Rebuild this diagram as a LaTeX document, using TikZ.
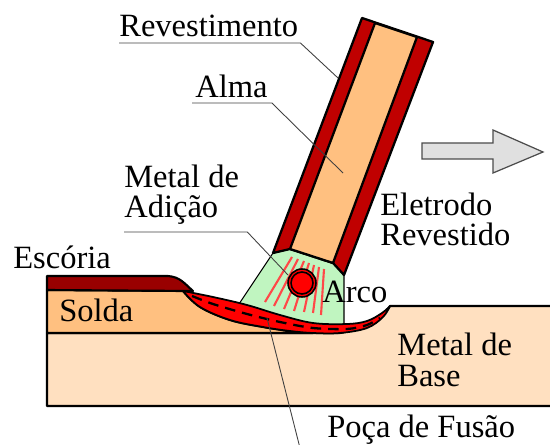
\documentclass[tikz,border=0pt]{standalone}
\usepackage{fontspec}
\setmainfont{Liberation Serif}
\usetikzlibrary{calc}
\usetikzlibrary{positioning}
\definecolor{revest}{HTML}{C00000}
\definecolor{escoria}{HTML}{990000}
\definecolor{alma}{HTML}{FFC080}
\definecolor{basemetal}{HTML}{FFE0C0}
\definecolor{plasma}{HTML}{C0F5C0}
\definecolor{raio}{HTML}{FF4848}
\definecolor{seta}{HTML}{E0E0E0}
\tikzset{peca/.style = {draw=black, line width=1.2pt, line join=round}}
\tikzset{leader/.style = {draw=black!75, line width=0.5pt}}
\tikzset{lbl/.style = {anchor=base west, inner sep=0, align=left,
                       font=\fontsize{18.5}{17.6}\selectfont}}

\begin{document}
\begin{tikzpicture}[x=0.02cm, y=-0.02cm]
      \useasboundingbox (0, 0) rectangle (550, 445);
      % metal de base e solda
      \draw [peca, fill=basemetal] (47, 333) -- (340, 333)
            .. controls (367, 328) and (383, 317) .. (390, 306)
            -- (560, 306) -- (560, 406) -- (47, 406) -- cycle;
      \draw [peca, fill=alma] (47, 290) -- (183, 291)
            -- plot [smooth, tension=0.6] coordinates {(183, 291) (200, 307) (230, 320) (263, 327) (290, 331) (313, 333)}
            -- (47, 333) -- cycle;
      \draw [peca, fill=escoria] (47, 290) -- (47, 276) -- (168, 276)
            .. controls (180, 277) and (184, 283) .. (193, 291) -- cycle;
      % arco
      \draw [fill=plasma, line width=0.6pt] (273, 253) -- (290, 249) -- (333, 263) -- (344, 275)
            -- (344, 329) -- (235, 310) -- cycle;
      \foreach \xa/\ya/\xb/\yb in {292/257/265/302, 298/259/274/306, 304/261/284/309,
                                   309/263/294/311, 314/265/304/312, 319/267/313/313, 324/269/321/315}
        \draw [raio, line width=1.2pt] (\xa, \ya) -- (\xb, \yb);
      % poca de fusao
      \draw [peca, line width=1pt, fill=red]
            plot [smooth, tension=0.6] coordinates {(183, 291) (213, 297) (247, 305) (280, 315) (313, 323) (347, 324) (367, 321) (382, 313) (390, 306)}
            -- plot [smooth, tension=0.6] coordinates {(390, 306) (383, 317) (367, 328) (340, 333) (313, 333) (290, 331) (263, 327) (230, 320) (200, 307) (183, 291)}
            -- cycle;
      \draw [line width=1.3pt, dash pattern=on 6pt off 4pt]
            plot [smooth] coordinates {(192, 296) (213, 304) (247, 314) (280, 322) (313, 328) (347, 329) (367, 325) (380, 318)};
      % eletrodo
      \draw [peca, line width=1.3pt, fill=revest] (362, 18) -- (433, 42) -- (344, 275) -- (333, 263)
            -- (290, 249) -- (273, 253) -- cycle;
      \draw [peca, line width=1.3pt, fill=alma] (375, 23) -- (417, 37) -- (333, 263) -- (290, 249) -- cycle;
      \draw [peca, line width=0.9pt, fill=red] (302, 283) circle [radius=0.28cm];
      \draw [peca, line width=0.9pt, fill=red] (302, 283) circle [radius=0.22cm];
      % seta
      \draw [fill=seta, draw=black!70, line width=0.7pt] (422, 143) -- (493, 143) -- (493, 130)
            -- (543, 152) -- (493, 173) -- (493, 159) -- (422, 159) -- cycle;
      % textos
      \node [lbl] (rev) at (119, 37) {Revestimento};
      \node [lbl] (alma) at (195, 98) {Alma};
      \node [lbl] (adicao) at (124, 218) {Metal de\\Adição};
      \node [lbl] (escoria) at (13, 269) {Escória};
      \node [lbl] (solda) at (59, 321) {Solda};
      \node [lbl] (arco) at (322, 302) {Arco};
      \node [lbl] (eletrodo) at (380, 246) {Eletrodo\\Revestido};
      \node [lbl] (base) at (397, 386) {Metal de\\Base};
      \node [lbl] (poca) at (327, 437) {Poça de Fusão};
      \coordinate (revT) at (338, 78);
      \coordinate (almaT) at (343, 173);
      \coordinate (adicaoT) at (288, 275);
      \coordinate (pocaT) at (267, 318);
      \coordinate (pocaB) at (301, 452);
      \draw [leader] ($(rev.base west) + (0, 6)$) -- ($(rev.base east) + (2, 6)$) -- (revT);
      \draw [leader] ($(alma.base west) + (-3, 5)$) -- ($(alma.base east) + (4, 5)$) -- (almaT);
      \draw [leader] ($(adicao.base west) + (0, 14)$) -- ($(adicao.base east) + (8, 14)$) -- (adicaoT);
      \draw [leader] (pocaT) -- (pocaB);
    \end{tikzpicture}
\end{document}
